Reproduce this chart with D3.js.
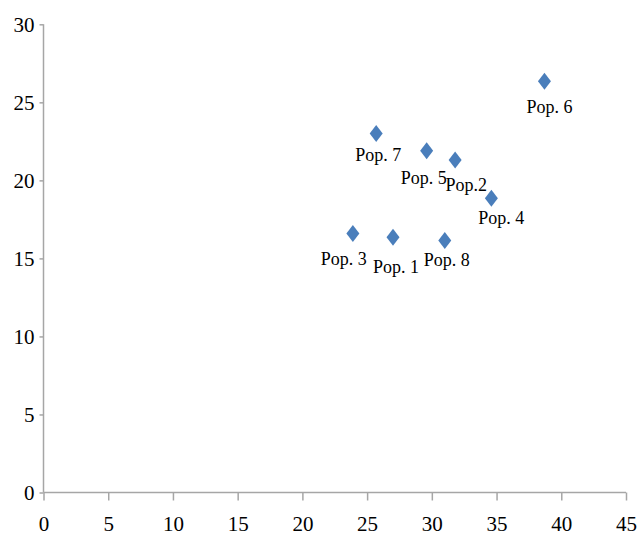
<!DOCTYPE html>
<html>
<head>
<meta charset="utf-8">
<script src="https://cdn.jsdelivr.net/npm/d3@7"></script>
<style>
  html, body { margin: 0; padding: 0; background: #fff; }
  svg { display: block; }
</style>
</head>
<body>
<svg id="chart" width="637" height="535"></svg>
<script>
// Data
const names = ["Pop. 1", "Pop.2", "Pop. 3", "Pop. 4", "Pop. 5", "Pop. 6", "Pop. 7", "Pop. 8"];
const xValues = [27.0, 31.8, 23.9, 34.6, 29.6, 38.7, 25.7, 31.0];
const yValues = [16.35, 21.3, 16.6, 18.85, 21.9, 26.35, 23.0, 16.15];
const xTicks = [0, 5, 10, 15, 20, 25, 30, 35, 40, 45];
const yTicks = [0, 5, 10, 15, 20, 25, 30];

// Label placement (pixel offsets from the marker), layout only
const labelDx = [3, 11, -9, 10, -3, 5, 2, 2];
const labelDy = [36, 31, 32, 26, 33, 32, 27, 26];

const svg = d3.select("#chart");
const x = d3.scaleLinear().domain([0, 45]).range([43.5, 626]);
const y = d3.scaleLinear().domain([0, 30]).range([492.5, 24.3]);

const axisColor = "#a6a6a6";
const font = "'Liberation Serif', 'Times New Roman', serif";

// X axis
const xAxis = svg.append("g")
  .attr("transform", `translate(0,${y(0)})`)
  .call(d3.axisBottom(x).tickValues(xTicks).tickSize(8).tickPadding(16).tickFormat(d3.format("d")));
xAxis.select(".domain").attr("stroke", axisColor).attr("stroke-width", 1.5);
xAxis.selectAll(".tick line").attr("stroke", axisColor).attr("stroke-width", 1.5);
xAxis.selectAll(".tick text").attr("fill", "#000").style("font-family", font).style("font-size", "21px");

// Y axis
const yAxis = svg.append("g")
  .attr("transform", `translate(${x(0)},0)`)
  .call(d3.axisLeft(y).tickValues(yTicks).tickSize(4).tickPadding(5).tickFormat(d3.format("d")));
yAxis.select(".domain").attr("stroke", axisColor).attr("stroke-width", 1.5);
yAxis.selectAll(".tick line").attr("stroke", axisColor).attr("stroke-width", 1.5);
yAxis.selectAll(".tick text").attr("fill", "#000").style("font-family", font).style("font-size", "21px");

// Fix domain ends (remove outer tick stubs)
xAxis.select(".domain").attr("d", `M${x(0)},0H${x(45)}`);
yAxis.select(".domain").attr("d", `M0,${y(0)}V${y(30)}`);

const pts = names.map((n, i) => ({ name: n, x: xValues[i], y: yValues[i], dx: labelDx[i], dy: labelDy[i] }));

// Markers (diamonds)
const hw = 6.5, hh = 8.5;
svg.append("g").selectAll("path")
  .data(pts)
  .join("path")
  .attr("d", d => `M${x(d.x)},${y(d.y) - hh}L${x(d.x) + hw},${y(d.y)}L${x(d.x)},${y(d.y) + hh}L${x(d.x) - hw},${y(d.y)}Z`)
  .attr("fill", "#4a7ebb");

// Labels
svg.append("g").selectAll("text")
  .data(pts)
  .join("text")
  .attr("x", d => x(d.x) + d.dx)
  .attr("y", d => y(d.y) + d.dy)
  .attr("text-anchor", "middle")
  .style("font-family", font)
  .style("font-size", "18px")
  .attr("fill", "#000")
  .text(d => d.name);
</script>
</body>
</html>
